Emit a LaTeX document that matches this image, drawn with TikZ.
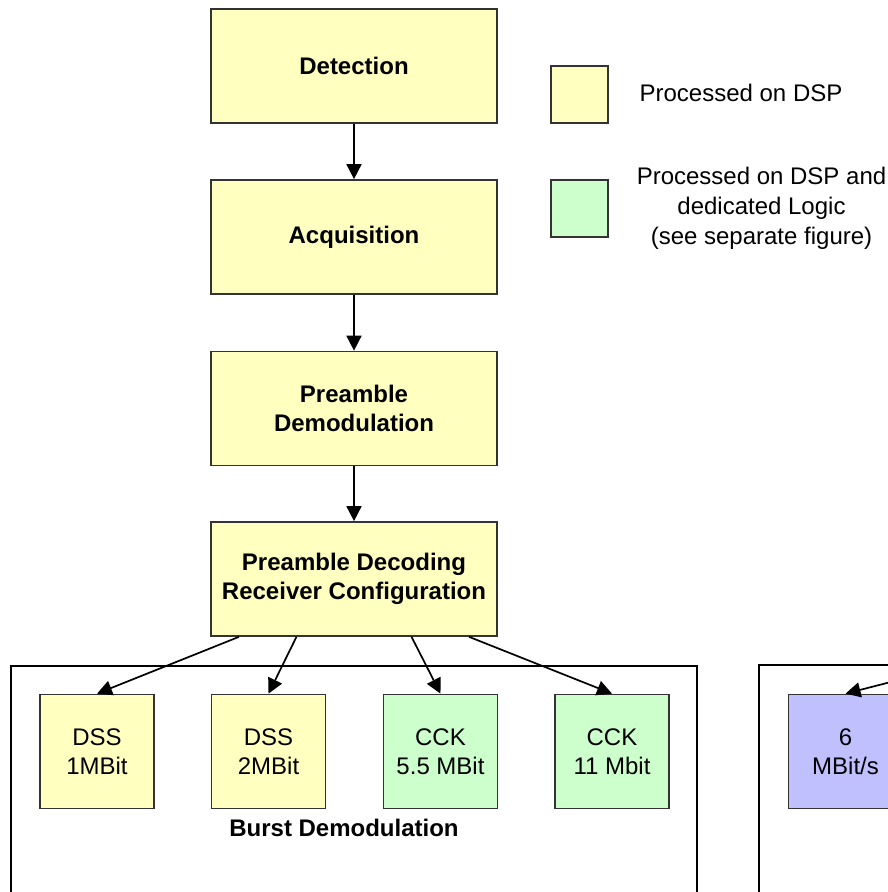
\documentclass[tikz,border=0pt]{standalone}
\usepackage{fontspec}
\setmainfont{Liberation Sans}
\usetikzlibrary{arrows.meta,calc}

\definecolor{dspyellow}{HTML}{FFFFC0}
\definecolor{logicgreen}{HTML}{CCFFCC}
\definecolor{ofdmblue}{HTML}{C0C0FF}

\tikzset{
  stage/.style={draw=black!80, line width=1.7pt, fill=dspyellow,
    minimum width=286pt, minimum height=114pt, inner sep=0pt, align=center,
    font=\bfseries\fontsize{24}{29}\selectfont},
  ratebox/.style={draw=black!80, line width=1.7pt,
    minimum width=114pt, minimum height=114pt, inner sep=0pt, align=center,
    font=\fontsize{24}{29}\selectfont},
  keybox/.style={draw=black!80, line width=1.7pt,
    minimum width=57pt, minimum height=57pt, inner sep=0pt},
  keytext/.style={align=center, inner sep=0pt, font=\fontsize{24}{30}\selectfont},
  frame/.style={draw=black, line width=1.7pt, inner sep=0pt},
  flow/.style={draw=black, line width=1.7pt,
    -{Triangle[length=15pt,width=15pt]}}
}

\begin{document}
\begin{tikzpicture}[x=1pt,y=-1pt]
  \useasboundingbox (0,0) rectangle (888,892);
  \clip (0,0) rectangle (888,892);

  % processing chain
  \node[stage] (det) at (354,66)    {Detection};
  \node[stage] (acq) at (354,237)   {Acquisition};
  \node[stage] (pdm) at (354,408.5) {Preamble\\Demodulation};
  \node[stage] (dec) at (354,579)   {Preamble Decoding\\Receiver Configuration};

  \draw[flow] (det.south) -- (acq.north);
  \draw[flow] (acq.south) -- (pdm.north);
  \draw[flow] (pdm.south) -- (dec.north);

  % legend
  \node[keybox, fill=dspyellow]  (k1) at (579.5,94.5)  {};
  \node[keybox, fill=logicgreen] (k2) at (579.5,208.5) {};
  \node[keytext] (t1) at (741,93)  {Processed on DSP};
  \node[keytext] (t2) at (761.5,208) {Processed on DSP and\\dedicated Logic\\(see separate figure)};

  % burst demodulation group
  \draw[frame] (11,666) rectangle (697,910);
  \node[font=\bfseries\fontsize{24}{29}\selectfont] (bdl) at (344,828) {Burst Demodulation};

  \node[ratebox, fill=dspyellow]  (dss1) at (97,751.5)    {DSS\\1MBit};
  \node[ratebox, fill=dspyellow]  (dss2) at (268.5,751.5) {DSS\\2MBit};
  \node[ratebox, fill=logicgreen] (cck5) at (440.5,751.5) {CCK\\5.5 MBit};
  \node[ratebox, fill=logicgreen] (cck11) at (612,751.5)  {CCK\\11 Mbit};

  \draw[flow] ($(dec.south west)!0.1!(dec.south east)$) -- (dss1.north);
  \draw[flow] ($(dec.south west)!0.3!(dec.south east)$) -- (dss2.north);
  \draw[flow] ($(dec.south west)!0.7!(dec.south east)$) -- (cck5.north);
  \draw[flow] ($(dec.south west)!0.9!(dec.south east)$) -- (cck11.north);

  % second group, continuing past the right edge
  \draw[frame] (759,665) rectangle (990,910);
  \node[ratebox, fill=ofdmblue] (ofdm6) at (845.5,751.5) {6\\MBit/s};
  \coordinate (feed) at (984,658);
  \draw[flow] (feed) -- (ofdm6.north);
\end{tikzpicture}
\end{document}
